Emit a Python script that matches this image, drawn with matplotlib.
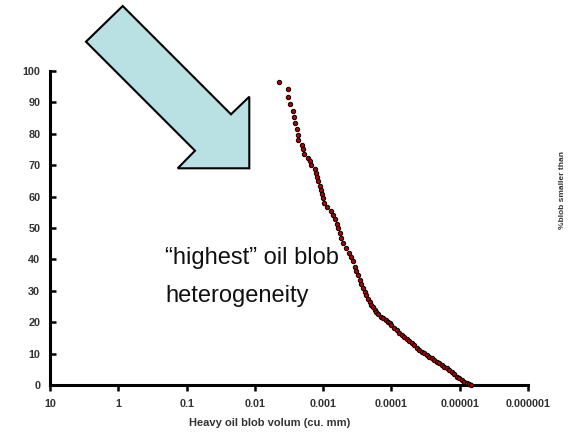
import matplotlib
matplotlib.use("Agg")
import matplotlib.pyplot as plt
from matplotlib.patches import Polygon

# blob volume (cu. mm) and cumulative % of blobs smaller than that volume
blob_volume = [
    4.40e-3, 3.30e-3, 3.24e-3, 3.05e-3, 2.79e-3, 2.67e-3, 2.58e-3, 2.41e-3,
    2.36e-3, 2.33e-3, 2.04e-3, 1.95e-3, 1.88e-3, 1.68e-3, 1.54e-3, 1.49e-3,
    1.32e-3, 1.28e-3, 1.24e-3, 1.17e-3, 1.12e-3, 1.07e-3, 1.035e-3, 9.9e-4,
    9.6e-4, 8.8e-4, 7.8e-4, 7.2e-4, 6.67e-4, 6.22e-4, 5.96e-4, 5.68e-4,
    5.43e-4, 5.08e-4, 4.64e-4, 4.25e-4, 3.87e-4, 3.68e-4, 3.47e-4, 3.27e-4,
    3.11e-4, 2.92e-4, 2.76e-4, 2.62e-4, 2.47e-4, 2.33e-4, 2.20e-4, 2.09e-4,
    1.97e-4, 1.86e-4, 1.76e-4, 1.66e-4, 1.55e-4, 1.40e-4, 1.31e-4, 1.20e-4,
    1.12e-4, 1.05e-4, 1.00e-4, 9.2e-5, 8.4e-5, 7.8e-5, 7.1e-5, 6.55e-5,
    6.0e-5, 5.53e-5, 5.08e-5, 4.67e-5, 4.29e-5, 3.94e-5, 3.62e-5, 3.33e-5,
    3.06e-5, 2.81e-5, 2.58e-5, 2.37e-5, 2.18e-5, 2.00e-5, 1.84e-5, 1.69e-5,
    1.55e-5, 1.43e-5, 1.31e-5, 1.20e-5, 1.11e-5, 1.02e-5, 9.3e-6, 8.6e-6,
    7.9e-6, 7.4e-6, 6.9e-6,
]
pct_smaller = [
    96.6, 94.2, 91.7, 89.5, 87.4, 85.4, 83.5, 81.5,
    79.7, 78.0, 76.4, 75.1, 73.7, 72.4, 71.2, 70.2,
    68.9, 67.4, 66.3, 65.0, 63.5, 62.1, 60.7, 59.5,
    58.1, 56.8, 55.5, 54.1, 52.8, 51.3, 49.9, 48.3,
    46.7, 45.1, 43.5, 42.1, 40.7, 39.5, 37.7, 36.3,
    34.9, 33.4, 32.2, 30.9, 29.7, 28.7, 27.5, 26.5,
    25.6, 24.7, 23.9, 23.2, 22.6, 21.8, 21.2, 20.7,
    20.2, 19.6, 19.1, 18.3, 17.5, 16.7, 15.9, 15.3,
    14.6, 13.9, 13.3, 12.6, 11.9, 11.3, 10.6, 10.1,
    9.6, 9.0, 8.5, 8.0, 7.4, 6.9, 6.4, 5.8,
    5.3, 4.8, 4.2, 3.4, 2.6, 2.1, 1.6, 1.1,
    0.5, 0.2, 0.0,
]

x_ticks = [10, 1, 0.1, 0.01, 0.001, 0.0001, 0.00001, 0.000001]
x_tick_labels = ["10", "1", "0.1", "0.01", "0.001", "0.0001", "0.00001", "0.000001"]
y_ticks = [0, 10, 20, 30, 40, 50, 60, 70, 80, 90, 100]

plt.rcParams['font.family'] = ['Liberation Sans', 'DejaVu Sans']

W, H = 576, 432
fig = plt.figure(figsize=(W / 100, H / 100), dpi=100)
ax = fig.add_axes([50 / W, 1 - 385 / H, (528 - 50) / W, (385 - 71) / H])

ax.scatter(blob_volume, pct_smaller, s=10, c='#b00000', edgecolors='black',
           linewidths=0.7, zorder=3, clip_on=False)

ax.set_xscale('log')
ax.set_xlim(10, 1e-6)
ax.set_ylim(0, 100)
ax.set_xticks(x_ticks)
ax.set_xticklabels(x_tick_labels)
ax.minorticks_off()
ax.set_yticks(y_ticks)

for side in ['top', 'right']:
    ax.spines[side].set_visible(False)
for side in ['left', 'bottom']:
    ax.spines[side].set_linewidth(2.2)

ax.tick_params(axis='y', direction='in', length=4, width=1.8, pad=7,
               labelsize=7.8, labelcolor='#333333')
ax.tick_params(axis='x', direction='out', length=4, width=1.8, pad=6,
               labelsize=7.8, labelcolor='#333333')
for lbl in ax.get_xticklabels() + ax.get_yticklabels():
    lbl.set_fontweight('bold')

fig.text(270 / W, 1 - 423 / H, 'Heavy oil blob volum (cu. mm)', fontsize=8,
         fontweight='bold', color='#333333', ha='center', va='center')

fig.text(562 / W, 1 - 190 / H, '%blob smaller than', rotation=90, fontsize=6,
         fontweight='bold', color='#333333', ha='center', va='center')

fig.text(165 / W, 1 - 247 / H, '\u201chighest\u201d oil blob\nheterogeneity',
         fontsize=17, color='#111111', ha='left', va='top', linespacing=1.95)

# big block arrow pointing at the curve
arrow_px = [(86, 41.7), (122.7, 6), (231, 114.3), (249.3, 96.7),
            (249.3, 168.3), (177.7, 168.3), (195, 150.7)]
arrow = Polygon([(x / W, 1 - y / H) for x, y in arrow_px], closed=True,
                transform=fig.transFigure, facecolor='#b9e0e3',
                edgecolor='black', linewidth=1.5, zorder=5)
fig.patches.append(arrow)

fig.savefig('out.png', dpi=100)
